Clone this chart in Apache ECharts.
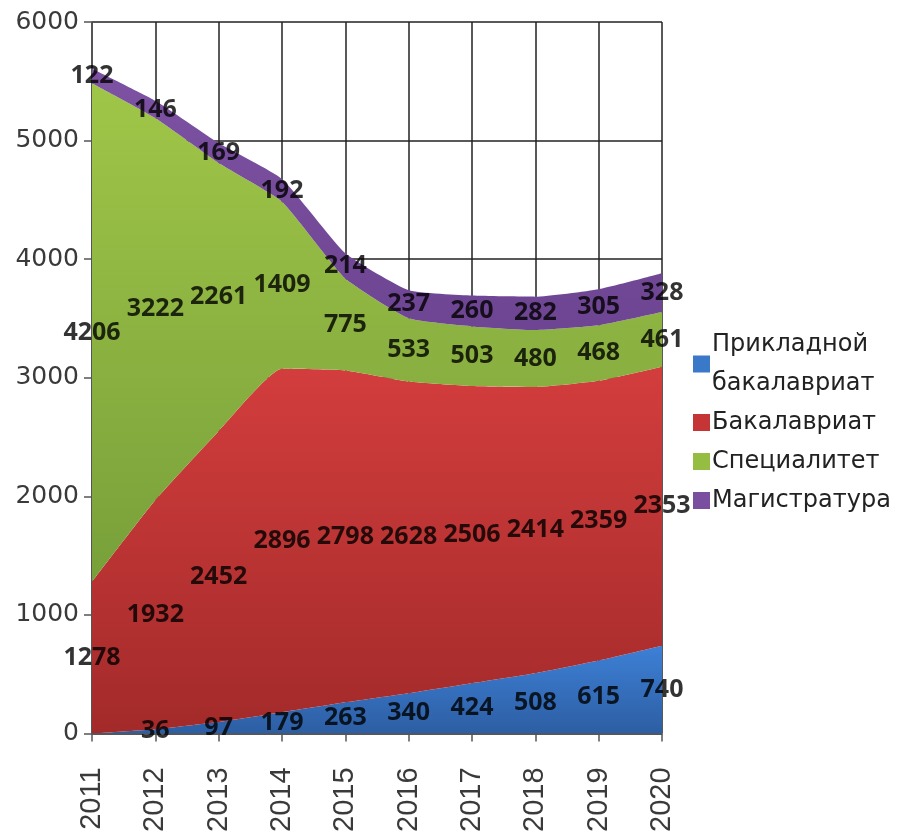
<!DOCTYPE html>
<html><head><meta charset="utf-8">
<script src="https://cdn.jsdelivr.net/npm/echarts@6/dist/echarts.min.js"></script>
<style>html,body{margin:0;padding:0;background:#fff}#c{width:904px;height:835px}</style>
</head><body><div id="c"></div>
<script>
const years = ['2011','2012','2013','2014','2015','2016','2017','2018','2019','2020'];
const applied = [0, 36, 97, 179, 263, 340, 424, 508, 615, 740];
const bachelor = [1278, 1932, 2452, 2896, 2798, 2628, 2506, 2414, 2359, 2353];
const specialist = [4206, 3222, 2261, 1409, 775, 533, 503, 480, 468, 461];
const master = [122, 146, 169, 192, 214, 237, 260, 282, 305, 328];
const names = ['Прикладной\nбакалавриат', 'Бакалавриат', 'Специалитет', 'Магистратура'];
const yTicks = {min: 0, max: 6000, interval: 1000};

const seriesData = [applied, bachelor, specialist, master];
const grads = [
  ['#3d80d6', '#2d5ea3'],
  ['#d33d3d', '#a32a2a'],
  ['#a0c648', '#78a03a'],
  ['#7d52a3', '#6e4592']
];
const legendColors = ['#3a78c8', '#c53535', '#94bd42', '#7a4f9f'];

function grad(c) {
  return new echarts.graphic.LinearGradient(0, 0, 0, 1, [{offset: 0, color: c[0]}, {offset: 1, color: c[1]}]);
}

const series = seriesData.map((d, k) => ({
  name: names[k], type: 'line', stack: 'total', data: d,
  smooth: 0.15, showSymbol: false, symbol: 'none',
  lineStyle: {width: 0}, itemStyle: {color: legendColors[k]},
  areaStyle: {color: grad(grads[k]), opacity: 1}
}));

// label points at the middle of each stacked band
const labelData = [];
const cum = years.map(() => 0);
seriesData.forEach(d => {
  d.forEach((v, i) => {
    if (v > 0) labelData.push([i, cum[i] + v / 2, v]);
    cum[i] += v;
  });
});
series.push({
  type: 'scatter', data: labelData, symbolSize: 0, silent: true, z: 10,
  itemStyle: {color: '#000'},
  label: {show: true, position: 'inside', formatter: p => p.data[2],
    fontFamily: 'Open Sans', fontWeight: 'bold', fontSize: 25, color: '#000',
    textBorderWidth: 0}
});

const axisFont = {fontFamily: 'DejaVu Sans', fontSize: 25, color: '#3a3a3a'};
const chart = echarts.init(document.getElementById('c'));
chart.setOption({
  animation: false,
  backgroundColor: '#fff',
  grid: {left: 92, right: 242, top: 22, bottom: 92, containLabel: false},
  legend: {
    orient: 'vertical', left: 688, top: 320, itemGap: 0,
    itemWidth: 17, itemHeight: 17, icon: 'rect',
    data: names.map((n, k) => ({name: n, itemStyle: {color: legendColors[k]}})),
    textStyle: {fontFamily: 'DejaVu Sans', fontSize: 24, color: '#222', lineHeight: 39, padding: [0, 0, 0, -3]}
  },
  xAxis: {
    type: 'category', data: years, boundaryGap: false,
    axisLine: {show: true, lineStyle: {color: '#555', width: 1.5}},
    axisTick: {show: true, inside: false, length: 8, lineStyle: {color: '#555', width: 1.5}},
    axisLabel: {rotate: 90, margin: 34, fontFamily: '"Liberation Sans Narrow", "Liberation Sans", sans-serif', fontSize: 29, color: '#3a3a3a'},
    splitLine: {show: true, lineStyle: {color: '#222', width: 1.5}}
  },
  yAxis: {
    type: 'value', min: yTicks.min, max: yTicks.max, interval: yTicks.interval,
    axisLine: {show: true, lineStyle: {color: '#555', width: 1.5}},
    axisTick: {show: true, inside: false, length: 8, lineStyle: {color: '#555', width: 1.5}},
    axisLabel: Object.assign({margin: 13, formatter: v => String(v)}, axisFont),
    splitLine: {show: true, lineStyle: {color: '#222', width: 1.5}}
  },
  series: series
});
</script></body></html>
